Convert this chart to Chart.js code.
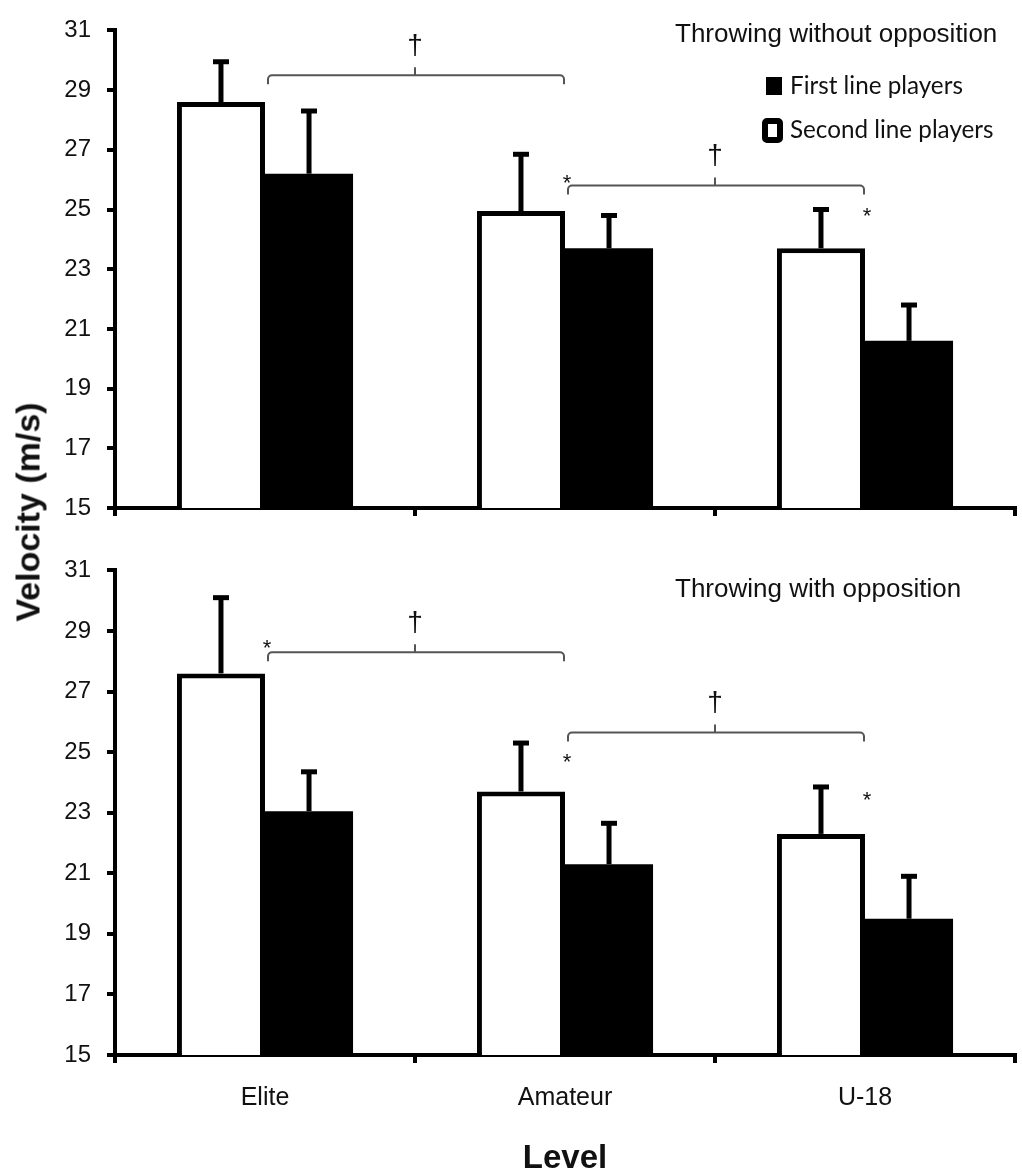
<!DOCTYPE html>
<html>
<head>
<meta charset="utf-8">
<script src="https://cdn.jsdelivr.net/npm/chart.js@4.4.1/dist/chart.umd.min.js"></script>
<style>
html,body{margin:0;padding:0;background:#fff;}
#wrap{position:relative;width:1022px;height:1171px;overflow:hidden;background:#fff;}
#c1{position:absolute;left:0;top:0;}
#c2{position:absolute;left:0;top:540px;}
#ytitle{position:absolute;left:28px;top:512px;transform:translate(-50%,-50%) rotate(-90deg);
  font:bold 34px "Liberation Sans",Arial,sans-serif;white-space:nowrap;color:#111;}
</style>
</head>
<body>
<div id="wrap">
  <canvas id="c1" width="1022" height="540"></canvas>
  <canvas id="c2" width="1022" height="631"></canvas>
  <div id="ytitle">Velocity (m/s)</div>
</div>
<script>
// ---------- data ----------
const levels = ['Elite', 'Amateur', 'U-18'];
const firstLabel = 'First line players';
const secondLabel = 'Second line players';
const yMin = 15, yMax = 31, yStep = 2;

// Throwing without opposition
const woSecondMean = [28.6, 24.95, 23.7];
const woSecondSD   = [1.35, 1.9, 1.3];
const woFirstMean  = [26.2, 23.7, 20.6];
const woFirstSD    = [2.1, 1.1, 1.2];
const woBracketLevels = [29.5, 25.8];        // Elite–Amateur, Amateur–U-18
const woStarLevels    = [null, 26.05, 24.95]; // '*' per level (null = none)

// Throwing with opposition
const wSecondMean = [27.6, 23.7, 22.3];
const wSecondSD   = [2.5, 1.6, 1.55];
const wFirstMean  = [23.05, 21.3, 19.5];
const wFirstSD    = [1.3, 1.35, 1.4];
const wBracketLevels = [28.3, 25.65];
const wStarLevels    = [28.6, 24.85, 23.6];

// ---------- helpers ----------
const SANS = '"Liberation Sans", Arial, sans-serif';
const TXT = '#111';

function drawBracket(ctx, x1, x2, y, xm) {
  const r = 4, drop = 9;
  ctx.beginPath();
  ctx.moveTo(x1, y + drop);
  ctx.arcTo(x1, y, x1 + r, y, r);
  ctx.lineTo(x2 - r, y);
  ctx.arcTo(x2, y, x2, y + r, r);
  ctx.lineTo(x2, y + drop);
  ctx.moveTo(xm, y);
  ctx.lineTo(xm, y - 8);
  ctx.stroke();
}

function fitFont(ctx, text, family, target, base) {
  ctx.font = base + 'px ' + family;
  const w = ctx.measureText(text).width;
  return base * target / w;
}

function overlay(p) {
  return {
    id: 'overlay',
    afterDatasetsDraw(chart) {
      const ctx = chart.ctx, ys = chart.scales.y;
      ctx.save();
      ctx.strokeStyle = '#000';
      chart.data.datasets.forEach((ds, di) => {
        const meta = chart.getDatasetMeta(di);
        meta.data.forEach((bar, i) => {
          const yTop = ys.getPixelForValue(ds.data[i] + ds.sd[i]);
          ctx.lineWidth = 5;
          ctx.beginPath();
          ctx.moveTo(bar.x, bar.y);
          ctx.lineTo(bar.x, yTop);
          ctx.stroke();
          ctx.beginPath();
          ctx.moveTo(bar.x - 8, yTop);
          ctx.lineTo(bar.x + 8, yTop);
          ctx.stroke();
        });
      });
      ctx.restore();
    },
    afterDraw(chart) {
      const ctx = chart.ctx, xs = chart.scales.x, ys = chart.scales.y;
      ctx.save();
      // significance brackets between consecutive levels
      ctx.strokeStyle = '#555';
      ctx.lineWidth = 2;
      p.brackets.forEach((lv, i) => {
        const y = ys.getPixelForValue(lv);
        const x1 = xs.getPixelForValue(i) + 3;
        const x2 = xs.getPixelForValue(i + 1) - 1;
        const xm = xs.getPixelForValue(i + 0.5);
        drawBracket(ctx, x1, x2, y, xm);
        ctx.fillStyle = TXT;
        ctx.font = '28px ' + SANS;
        ctx.textAlign = 'center';
        ctx.textBaseline = 'middle';
        ctx.fillText('\u2020', xm, y - 29);
      });
      // asterisks
      ctx.fillStyle = TXT;
      ctx.font = '22px ' + SANS;
      ctx.textAlign = 'center';
      ctx.textBaseline = 'alphabetic';
      p.stars.forEach((lv, i) => {
        if (lv === null) return;
        const x = xs.getPixelForValue(i) + 2;
        const y = ys.getPixelForValue(lv);
        ctx.fillText('*', x, y + 12);
      });
      // panel title
      ctx.font = '26px ' + SANS;
      ctx.textAlign = 'left';
      ctx.textBaseline = 'middle';
      ctx.fillText(p.title, 675, p.titleY);
      // legend
      if (p.legend) {
        const fam = 'Lato, "Open Sans", sans-serif';
        const fs = fitFont(ctx, firstLabel, fam, 173, 24);
        ctx.font = fs + 'px ' + fam;
        ctx.fillStyle = '#000';
        ctx.fillRect(766, 77, 16, 18);
        ctx.lineWidth = 6;
        ctx.strokeStyle = '#000';
        ctx.beginPath();
        ctx.roundRect(765, 121, 15, 19, 2);
        ctx.stroke();
        ctx.fillStyle = TXT;
        ctx.textAlign = 'left';
        ctx.textBaseline = 'middle';
        ctx.fillText(firstLabel, 790, 86);
        ctx.fillText(secondLabel, 790, 130);
      }
      ctx.restore();
    }
  };
}

function buildChart(canvas, p) {
  return new Chart(canvas, {
    type: 'bar',
    data: {
      labels: levels,
      datasets: [
        { label: secondLabel, data: p.second, sd: p.secondSD,
          backgroundColor: '#fff', borderColor: '#000', borderWidth: 5, borderSkipped: 'start' },
        { label: firstLabel, data: p.first, sd: p.firstSD,
          backgroundColor: '#000', borderColor: '#000', borderWidth: 0 }
      ]
    },
    options: {
      responsive: false,
      animation: false,
      devicePixelRatio: 1,
      layout: { padding: { top: p.padTop, right: 7, bottom: 0, left: 0 } },
      datasets: { bar: { categoryPercentage: 0.587, barPercentage: 1 } },
      plugins: { legend: { display: false }, tooltip: { enabled: false } },
      scales: {
        x: {
          z: 1,
          offset: true,
          grid: { offset: true, drawOnChartArea: false, drawTicks: true, tickLength: 8, lineWidth: 4, color: '#000' },
          border: { display: true, color: '#000', width: 4 },
          ticks: { display: p.showLabels, padding: 20, color: TXT, font: { family: SANS, size: 25 } },
          title: { display: p.showLabels, text: 'Level', color: TXT,
                   font: { family: SANS, size: 33, weight: 'bold', lineHeight: 0.75 }, padding: 0 },
          afterFit: (s) => { s.height = p.xHeight; }
        },
        y: {
          min: yMin, max: yMax,
          ticks: { stepSize: yStep, padding: 16, color: TXT, font: { family: SANS, size: 24 } },
          grid: { drawOnChartArea: false, drawTicks: true, tickLength: 8, lineWidth: 4, color: '#000' },
          border: { display: true, color: '#000', width: 4 },
          afterFit: (s) => { s.width = 115; }
        }
      }
    },
    plugins: [overlay(p)]
  });
}

buildChart(document.getElementById('c1'), {
  second: woSecondMean, secondSD: woSecondSD, first: woFirstMean, firstSD: woFirstSD,
  brackets: woBracketLevels, stars: woStarLevels,
  title: 'Throwing without opposition', titleY: 35, legend: true,
  padTop: 25, xHeight: 32, showLabels: false
});
buildChart(document.getElementById('c2'), {
  second: wSecondMean, secondSD: wSecondSD, first: wFirstMean, firstSD: wFirstSD,
  brackets: wBracketLevels, stars: wStarLevels,
  title: 'Throwing with opposition', titleY: 50, legend: false,
  padTop: 26, xHeight: 116, showLabels: true
});
</script>
</body>
</html>
